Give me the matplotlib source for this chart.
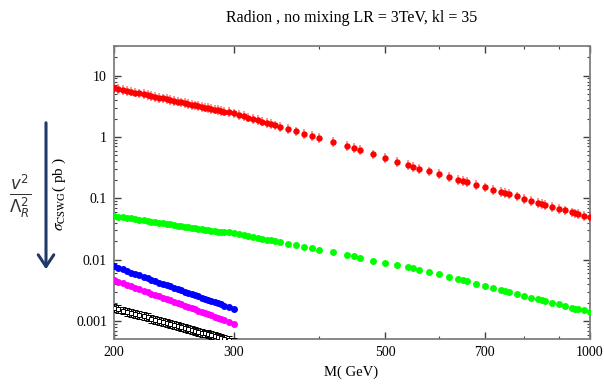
"""Radion cross sections vs mass (no mixing, LR = 3 TeV, kl = 35)."""

import matplotlib
matplotlib.use("Agg")
import matplotlib.pyplot as plt
from matplotlib.ticker import FixedLocator, FixedFormatter, NullFormatter, LogLocator
import numpy as np

# ---- data ----
# dense scan 200-290 GeV, then coarser points
mass_dense = [200, 203, 206, 209, 212, 215, 218, 221, 224, 227, 230, 233, 236, 239,
              242, 245, 248, 251, 254, 257, 260, 263, 266, 269, 272, 275, 278, 281,
              284, 287, 290, 295, 300]
mass_sparse = [305, 310, 315, 320, 325, 330, 335, 340, 345, 350, 360, 370, 380, 390,
               400, 420, 440, 450, 460, 480, 500, 520, 540, 550, 560, 580, 600, 620,
               640, 650, 660, 680, 700, 720, 740, 750, 760, 780, 800, 820, 840, 850,
               860, 880, 900, 920, 940, 950, 960, 980, 1000]

red_dense = [6.30, 6.08, 5.87, 5.67, 5.48, 5.30, 5.13, 4.96, 4.80, 4.65, 4.51, 4.37,
             4.24, 4.11, 3.99, 3.88, 3.77, 3.66, 3.56, 3.46, 3.36, 3.27, 3.18, 3.10,
             3.02, 2.94, 2.87, 2.79, 2.72, 2.66, 2.59, 2.53, 2.42]
red_sparse = [2.29, 2.18, 2.07, 1.97, 1.87, 1.78, 1.70, 1.62, 1.54, 1.47, 1.35, 1.23,
              1.13, 1.04, 0.958, 0.819, 0.705, 0.656, 0.611, 0.52, 0.455, 0.395,
              0.345, 0.328, 0.304, 0.275, 0.249, 0.222, 0.199, 0.191, 0.184, 0.167,
              0.151, 0.138, 0.1265, 0.122, 0.117, 0.1074, 0.0984, 0.0912, 0.0836,
              0.0805, 0.0785, 0.0728, 0.0675, 0.0635, 0.0589, 0.0568, 0.0553, 0.0513,
              0.050]
red_rel_err = 0.2

green_dense = [0.0519, 0.0506, 0.0494, 0.0482, 0.0470, 0.0460, 0.0449, 0.0439, 0.0429,
               0.0419, 0.0410, 0.0401, 0.0393, 0.0385, 0.0377, 0.0369, 0.0361, 0.0354,
               0.0347, 0.0340, 0.0334, 0.0327, 0.0321, 0.0315, 0.0310, 0.0304, 0.0299,
               0.0293, 0.0288, 0.0283, 0.0278, 0.0282, 0.0272]
green_sparse = [0.0262, 0.0253, 0.0244, 0.0236, 0.0228, 0.0220, 0.0213, 0.0206, 0.0199,
                0.0192, 0.0181, 0.0172, 0.0163, 0.0154, 0.0146, 0.0132, 0.0119, 0.0113,
                0.0107, 0.0097, 0.0089, 0.0082, 0.00764, 0.00736, 0.00691, 0.00633,
                0.00580, 0.00525, 0.00481, 0.00463, 0.00446, 0.00408, 0.00374, 0.00347,
                0.00318, 0.00310, 0.00299, 0.00281, 0.00260, 0.00241, 0.00226, 0.00218,
                0.00213, 0.00200, 0.00188, 0.00176, 0.00166, 0.00160, 0.00156, 0.00150,
                0.00143]

blue_dense = [0.00780, 0.00735, 0.00694, 0.00655, 0.00619, 0.00586, 0.00555, 0.00525,
              0.00498, 0.00473, 0.00449, 0.00426, 0.00405, 0.00386, 0.00367, 0.00350,
              0.00333, 0.00318, 0.00303, 0.00289, 0.00276, 0.00264, 0.00253, 0.00242,
              0.00231, 0.00221, 0.00212, 0.00203, 0.00195, 0.00187, 0.00179, 0.00168,
              0.00157]
magenta_dense = [0.00470, 0.00442, 0.00417, 0.00393, 0.00371, 0.00351, 0.00331, 0.00314,
                 0.00297, 0.00281, 0.00267, 0.00253, 0.00240, 0.00228, 0.00217, 0.00207,
                 0.00197, 0.00187, 0.00179, 0.00170, 0.00162, 0.00155, 0.00148, 0.00142,
                 0.00135, 0.00129, 0.00124, 0.00119, 0.00114, 0.00109, 0.00104, 0.000974,
                 0.00091]
black_dense = [0.00163, 0.00156, 0.00149, 0.00143, 0.00137, 0.00131, 0.00125, 0.00120,
               0.00115, 0.00110, 0.00106, 0.00102, 0.000978, 0.000940, 0.000904,
               0.000870, 0.000838, 0.000807, 0.000778, 0.000750, 0.000723, 0.000698,
               0.000674, 0.000651, 0.000629, 0.000608, 0.000588, 0.000568, 0.000550,
               0.000532, 0.000515, 0.000489, 0.000464]
black_rel_err = 0.16

x_major = [200, 300, 500, 700, 1000]
x_minor = [400, 600, 800, 900]
y_major = [0.001, 0.01, 0.1, 1, 10]
y_major_labels = ["0.001", "0.01", "0.1", "1", "10"]

plt.rcParams["font.family"] = ["Liberation Serif", "DejaVu Serif"]
plt.rcParams["mathtext.fontset"] = "stix"

fig = plt.figure(figsize=(6.04, 3.84), dpi=100)
ax = fig.add_axes([114 / 604, 1 - 339.3 / 384, 476 / 604, (339.3 - 45.7) / 384])

mass_all = np.array(mass_dense + mass_sparse)


def err_pair(vals, rel):
    v = np.asarray(vals)
    return [v - v / (1 + rel), v * rel]


# red: with error bars
red_all = np.array(red_dense + red_sparse)
ax.errorbar(mass_all, red_all, yerr=err_pair(red_all, red_rel_err), fmt="o",
            color="#ff0000", ecolor=(1, 0.1, 0.1, 0.6), elinewidth=1.1, capsize=3.0,
            capthick=1.1, markersize=4.6, markeredgewidth=0, zorder=5)

# green
green_all = np.array(green_dense + green_sparse)
ax.plot(mass_all, green_all, "o", color="#00ff00", markersize=5.0,
        markeredgewidth=0, zorder=4)

mass_low = np.array(mass_dense)
ax.plot(mass_low, blue_dense, "o", color="#0000ff", markersize=5.0,
        markeredgewidth=0, zorder=4)
ax.plot(mass_low, magenta_dense, "o", color="#ff00ff", markersize=5.0,
        markeredgewidth=0, zorder=4)
ax.errorbar(mass_low, black_dense, yerr=err_pair(black_dense, black_rel_err), fmt="s",
            color="black", mfc="white", mec="black", markersize=3.2,
            markeredgewidth=0.7, elinewidth=0.7, capsize=2.5, capthick=0.9, zorder=4)

ax.set_xscale("log")
ax.set_yscale("log")
ax.set_xlim(200, 1000)
ax.set_ylim(5.06e-4, 30.7)

ax.xaxis.set_major_locator(FixedLocator(x_major))
ax.xaxis.set_major_formatter(FixedFormatter([str(v) for v in x_major]))
ax.xaxis.set_minor_locator(FixedLocator(x_minor))
ax.xaxis.set_minor_formatter(NullFormatter())
ax.yaxis.set_major_locator(FixedLocator(y_major))
ax.yaxis.set_major_formatter(FixedFormatter(y_major_labels))
ax.yaxis.set_minor_locator(LogLocator(base=10, subs=np.arange(2, 10)))
ax.yaxis.set_minor_formatter(NullFormatter())

for side in ax.spines.values():
    side.set_color("#7f7f7f")
    side.set_linewidth(1.3)
ax.tick_params(which="both", direction="in", top=True, right=True,
               colors="#404040", labelcolor="black", labelsize=10)
ax.tick_params(which="major", length=5, width=1.0, pad=5)
ax.tick_params(which="minor", length=2.5, width=0.8)

ax.set_title("Radion , no mixing LR = 3TeV, kl = 35", fontsize=11.5, pad=17)
fig.text(351 / 604, 1 - 372 / 384, "M( GeV)", ha="center", va="center", fontsize=10.5)
fig.text(59 / 604, 1 - 194 / 384, r"$\sigma_{\mathrm{CSWG}}$( pb )", rotation=90,
         ha="center", va="center", fontsize=11)

# arrow and coupling factor on the far left
fig.patches.append(matplotlib.patches.FancyArrowPatch(
    (46 / 604, 1 - 120 / 384), (46 / 604, 1 - 272 / 384), transform=fig.transFigure,
    arrowstyle="->,head_length=6,head_width=4", color="#1f3a68", linewidth=2.2,
    mutation_scale=1.4))
fig.text(20 / 604, 1 - 196 / 384, r"$\frac{v^2}{\Lambda_R^2}$", ha="center",
         va="center", fontsize=17, color="#333333", math_fontfamily="dejavusans")

fig.savefig("out.png", dpi=100)
